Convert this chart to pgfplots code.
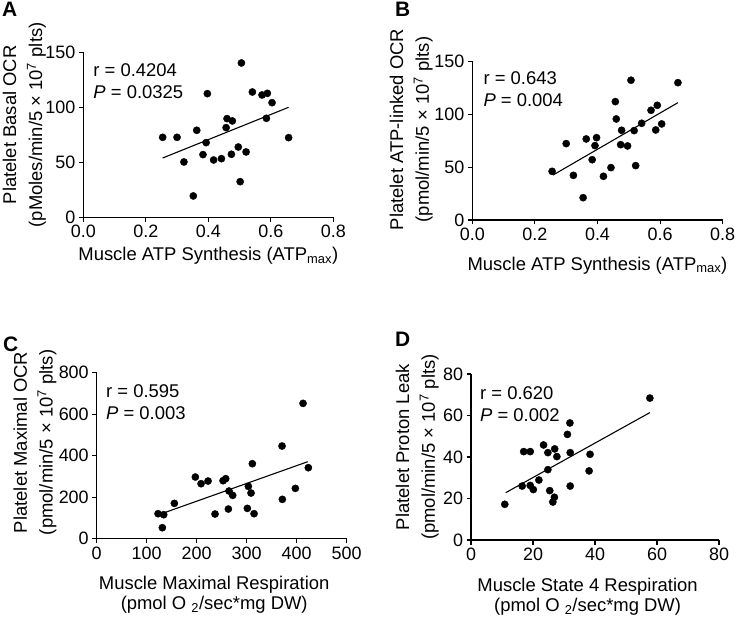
\documentclass[border=0pt]{standalone}
\usepackage{pgfplots}
\pgfplotsset{compat=1.18}
\usepackage{fontspec}
\setmainfont{Liberation Sans}

% shared look of the four panels
\pgfplotsset{
  panel/.style={
    scale only axis, clip=false,
    axis lines=left, axis line style={-, line width=1.1pt},
    tick style={black, line width=1.1pt}, tick align=outside,
    major tick length=4.5bp,
    xmin=0, ymin=0,
    every tick label/.append style={font=\fontsize{18}{20}\selectfont},
    /pgf/number format/assume math mode=true,
    xlabel style={font=\fontsize{18.5}{20}\selectfont, align=center, anchor=north, inner sep=0pt},
    ylabel style={font=\fontsize{18.5}{26}\selectfont, align=center, anchor=south, inner sep=0pt},
  },
  dots/.style={only marks, mark=*, mark size=3.6bp, black},
  fit/.style={black, line width=1.1pt},
}
\newcommand{\stat}[4]{%
  \node[anchor=base west, inner sep=0pt, font=\fontsize{18.5}{20}\selectfont] at (axis description cs:#1,#2) {r = #3};
  \node[anchor=base west, inner sep=0pt, font=\fontsize{18.5}{20}\selectfont] at (axis description cs:#1,#2-0.135) {\textit{P} = #4};
}

\pgfplotstableread{
x y
0.254 72.7
0.300 72.7
0.322 50.3
0.363 79.1
0.352 19.4
0.397 112.4
0.393 67.9
0.383 57.0
0.417 52.1
0.442 53.3
0.460 89.7
0.477 87.6
0.457 81.5
0.474 57.3
0.496 63.9
0.506 140.3
0.502 32.4
0.521 59.4
0.541 113.9
0.572 111.2
0.589 112.7
0.604 104.2
0.586 90.0
0.657 72.4
}\dataA

\pgfplotstableread{
x y
0.255 46.0
0.300 72.2
0.323 42.2
0.354 21.1
0.364 76.6
0.383 57.0
0.392 70.3
0.397 77.8
0.419 41.3
0.443 49.5
0.457 111.9
0.460 95.5
0.477 84.8
0.474 71.2
0.496 70.0
0.507 132.1
0.517 84.5
0.522 51.4
0.541 91.4
0.571 103.7
0.591 108.4
0.586 85.1
0.605 90.8
0.657 129.8
}\dataB

\pgfplotstableread{
x y
122.7 120.5
134.0 115.7
131.3 53.0
155.3 170.3
197.3 297.2
208.7 265.1
222.7 277.9
252.7 279.5
258.0 289.2
236.7 118.9
264.7 229.7
272.0 208.8
263.3 143.0
303.3 252.2
308.7 220.1
311.3 361.4
301.3 146.2
314.7 120.5
370.7 446.6
371.3 189.6
397.3 242.6
423.3 342.2
412.7 652.2
}\dataC

\pgfplotstableread{
x y
10.9 17.2
16.5 26.0
17.0 42.6
19.1 42.6
19.1 26.3
20.1 24.3
21.9 28.9
23.4 45.8
24.8 42.1
24.8 33.9
25.4 23.8
27.0 43.9
27.7 40.2
26.4 18.3
26.9 20.6
31.1 50.9
31.9 56.4
32.0 42.1
32.0 26.0
38.1 33.3
38.4 41.3
57.7 68.4
}\dataD

\begin{document}
\begin{tikzpicture}
\path[use as bounding box] (0bp,0bp) rectangle (737bp,618bp);

% panel letters
\node[anchor=north west, inner sep=0, font=\fontsize{21}{21}\selectfont\bfseries] at (2bp,616bp) {A};
\node[anchor=north west, inner sep=0, font=\fontsize{21}{21}\selectfont\bfseries] at (395bp,616bp) {B};
\node[anchor=north west, inner sep=0, font=\fontsize{21}{21}\selectfont\bfseries] at (3bp,281bp) {C};
\node[anchor=north west, inner sep=0, font=\fontsize{21}{21}\selectfont\bfseries] at (395bp,286bp) {D};

% A
\begin{axis}[panel, at={(83.3bp,400.7bp)}, anchor=south west,
  width=250bp, height=165bp,
  xmax=0.8, ymax=150,
  xtick={0,0.2,...,0.8}, ytick={0,50,100,150},
  xticklabel style={/pgf/number format/.cd, fixed, fixed zerofill, precision=1},
  xlabel style={at={(axis description cs:0.5,-0.18)}},
  ylabel style={at={(axis description cs:-0.149,0.56)}},
  xlabel={Muscle ATP Synthesis (ATP\textsubscript{max})},
  ylabel={Platelet Basal OCR\\(pMoles/min/5 × 10\textsuperscript{7} plts)}]
\addplot[dots] table {\dataA};
\addplot[fit] coordinates {(0.254,53.9) (0.657,100.0)};
\stat{0.04}{0.856}{0.4204}{0.0325}
\end{axis}

% B
\begin{axis}[panel, at={(472.3bp,398bp)}, anchor=south west,
  width=250.4bp, height=158.7bp,
  xmax=0.8, ymax=150,
  xtick={0,0.2,...,0.8}, ytick={0,50,100,150},
  xticklabel style={/pgf/number format/.cd, fixed, fixed zerofill, precision=1},
  xlabel style={at={(axis description cs:0.5,-0.231)}},
  ylabel style={at={(axis description cs:-0.157,0.57)}},
  xlabel={Muscle ATP Synthesis (ATP\textsubscript{max})},
  ylabel={Platelet ATP-linked OCR\\(pmol/min/5 × 10\textsuperscript{7} plts)}]
\addplot[dots] table {\dataB};
\addplot[fit] coordinates {(0.258,42.5) (0.657,110.9)};
\stat{0.044}{0.851}{0.643}{0.004}
\end{axis}

% C
\begin{axis}[panel, at={(96.7bp,79.3bp)}, anchor=south west,
  width=250bp, height=166bp,
  xmax=500, ymax=800,
  xtick={0,100,...,500}, ytick={0,200,...,800},
  xlabel style={at={(axis description cs:0.47,-0.225)}},
  ylabel style={at={(axis description cs:-0.16,0.58)}},
  xlabel={Muscle Maximal Respiration\\(pmol O \textsubscript{2}/sec*mg DW)},
  ylabel={Platelet Maximal OCR\\(pmol/min/5 × 10\textsuperscript{7} plts)}]
\addplot[dots] table {\dataC};
\addplot[fit] coordinates {(135.3,125.3) (422,371)};
\stat{0.037}{0.852}{0.595}{0.003}
\end{axis}

% D
\begin{axis}[panel, at={(471bp,78bp)}, anchor=south west,
  width=248bp, height=166bp,
  xmax=80, ymax=80,
  xtick={0,20,...,80}, ytick={0,20,...,80},
  xlabel style={at={(axis description cs:0.47,-0.228)}},
  ylabel style={at={(axis description cs:-0.129,0.56)}},
  xlabel={Muscle State 4 Respiration\\(pmol O \textsubscript{2}/sec*mg DW)},
  ylabel={Platelet Proton Leak\\(pmol/min/5 × 10\textsuperscript{7} plts)}]
\addplot[dots] table {\dataD};
\addplot[fit] coordinates {(11.2,22.8) (57.7,61.4)};
\stat{0.036}{0.848}{0.620}{0.002}
\end{axis}
\end{tikzpicture}
\end{document}
